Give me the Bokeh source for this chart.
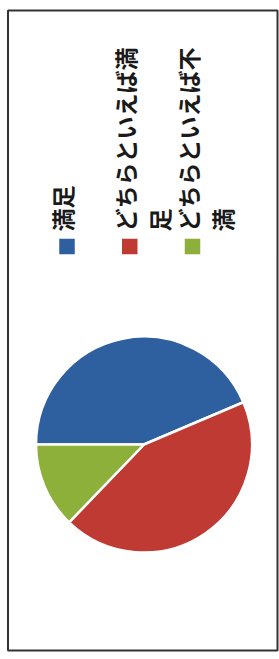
import math
from bokeh.plotting import figure
from bokeh.models import Range1d, ColumnDataSource
from bokeh.core.properties import value
from bokeh.embed import file_html
from bokeh.resources import INLINE

# Data (chart is shown rotated 90 degrees, as in the scanned reference)
labels = ["満足", "どちらといえば満足", "どちらといえば不満"]
values = [43.6, 43.6, 12.8]
colors = ["#2E5F9F", "#BE3A33", "#8DB03A"]

W, H = 279, 659
p = figure(width=W, height=H, x_range=Range1d(0, W), y_range=Range1d(0, H),
           output_backend="svg", toolbar_location=None, min_border=0,
           title=None, x_axis_location=None, y_axis_location=None)
p.grid.visible = False
p.outline_line_color = None
p.background_fill_color = "white"
p.border_fill_color = "white"

# frame
p.quad(left=7.5, right=277, bottom=9, top=649, fill_color=None,
       line_color="#333333", line_width=2)

# pie (starts at left, clockwise)
total = sum(values)
starts, ends = [], []
cum = 0.0
for v in values:
    starts.append(math.pi - 2 * math.pi * cum / total)
    cum += v
    ends.append(math.pi - 2 * math.pi * cum / total)
src = ColumnDataSource(dict(start=starts, end=ends, color=colors, label=labels, value=values))
p.wedge(x=143.5, y=215, radius=108, start_angle="start", end_angle="end",
        direction="clock", fill_color="color", line_color="white", line_width=2.5,
        source=src)

# legend (rotated)
sq_x0, sq_step, sq_y = 66.5, 62.75, 413
sq_xs = [sq_x0 + i * sq_step for i in range(len(labels))]
p.rect(x=sq_xs, y=[sq_y] * len(labels), width=15.5, height=15.5,
       fill_color=colors, line_color=None)

tx, ty, tt = [], [], []
for i, lab in enumerate(labels):
    parts = [lab[:8], lab[8:]] if len(lab) > 8 else [lab]
    for j, part in enumerate(parts):
        tx.append(sq_xs[i] - 5 + j * 34)
        ty.append(428)
        tt.append(part)
p.text(x=tx, y=ty, text=tt, angle=math.pi / 2, text_align="left",
       text_baseline="middle", text_font=value("Noto Sans CJK JP"),
       text_font_size="23px", text_font_style="bold", text_color="#1a1a1a")

open("out.html", "w").write(file_html(p, INLINE))
